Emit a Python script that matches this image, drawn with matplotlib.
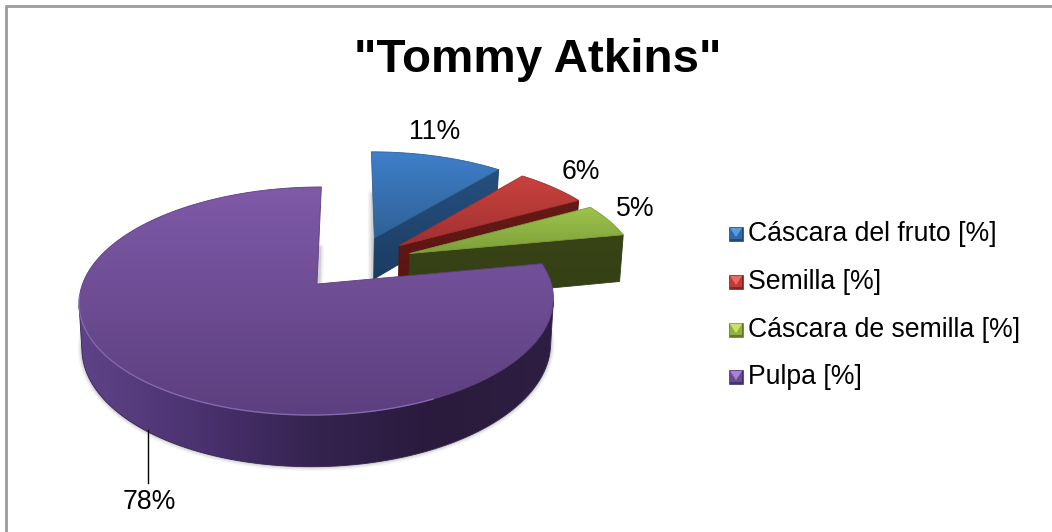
import numpy as np
import matplotlib
matplotlib.use("Agg")
import matplotlib.pyplot as plt
from matplotlib.colors import LinearSegmentedColormap
from matplotlib.patches import Polygon

plt.rcParams["font.family"] = ["Liberation Sans", "DejaVu Sans"]

# === Data ===
categories = ["Cáscara del fruto [%]", "Semilla [%]", "Cáscara de semilla [%]", "Pulpa [%]"]
values = [11, 6, 5, 78]
labels = ["11%", "6%", "5%", "78%"]

# top face gradient (far, near), side gradient and legend swatch tones per slice
top_colors = [("#3f7fcb", "#2f6195"), ("#c9423e", "#a03030"), ("#9dc44c", "#7d9e3a"), ("#7f5aa8", "#5c3f7f")]
rim_colors = [["#25507f", "#1c3c62"], ["#661a17", "#581412"], ["#384316", "#343f14"],
              ["#5f4388", "#4b3270", "#35234f", "#2a1a3c", "#2e1f42"]]
swatch_colors = [("#5a9ae0", "#2f6aa8", "#1f4a78"), ("#e86a62", "#c03a36", "#7f2522"),
                 ("#c8e468", "#90b040", "#607a28"), ("#a684d4", "#6a4a95", "#46306a")]
label_pos = [(435, 132), (581, 172), (635, 209), (149, 502)]

# Pie geometry in px: apex of the pulp slice, ellipse axes, perspective and skew
CX, CY = 317.0, 284.0
RX, RY = 234.5, 111.5
PERSP = 0.149
SKEW = 5.0
DEPTHS = [44.0, 44.0, 50.0, 44.0]
EXPLODE = 0.257
CONVERGE = 0.012  # lower plane of the pie is slightly narrower

W, H = 1052, 532


def project(u, v, drop=0.0):
    w = 1 + PERSP * v
    scale = 1 - CONVERGE if drop else 1.0
    return CX + scale * (RX * u + SKEW * v) / w, CY - (RY * v - drop) / w


def slice_geometry(start, end, centre):
    # angles run clockwise from twelve o'clock, in radians
    t = np.linspace(start, end, 160)
    return centre[0] + np.sin(t), centre[1] + np.cos(t)


def gradient_fill(ax, poly_xy, colors, vertical=True, zorder=2):
    poly_xy = np.asarray(poly_xy)
    x0, x1 = poly_xy[:, 0].min(), poly_xy[:, 0].max()
    y0, y1 = poly_xy[:, 1].min(), poly_xy[:, 1].max()
    cmap = LinearSegmentedColormap.from_list("g", colors)
    grad = np.linspace(0, 1, 256)
    grad = grad[:, None] if vertical else grad[None, :]
    im = ax.imshow(grad, cmap=cmap, extent=(x0, x1, y1, y0), aspect="auto",
                   interpolation="bilinear", zorder=zorder)
    patch = Polygon(poly_xy, closed=True, transform=ax.transData, fc="none", ec="none")
    ax.add_patch(patch)
    im.set_clip_path(patch)
    # thin edge of the mean colour hides the jagged clip
    ax.add_patch(Polygon(poly_xy, closed=True, fill=False, lw=0.6,
                         ec=colors[len(colors) // 2], zorder=zorder))


def soft_shadow(ax, xs, ys, zorder):
    for lw, alpha in zip([6, 4, 2], [0.05, 0.08, 0.12]):
        ax.plot(xs, ys, color="#404040", lw=lw, alpha=alpha, solid_capstyle="round", zorder=zorder)


fig = plt.figure(figsize=(W / 100, H / 100), dpi=100)
ax = fig.add_axes([0, 0, 1, 1])
ax.set_xlim(0, W)
ax.set_ylim(H, 0)
ax.axis("off")

# chart frame: only top and left edges are visible
ax.plot([6, 6], [H, 6], color="#9a9a9a", lw=2.0, solid_capstyle="butt", zorder=1)
ax.plot([5, W], [6, 6], color="#9a9a9a", lw=2.0, solid_capstyle="butt", zorder=1)

# === Slices ===
fractions = np.array(values) / sum(values)
edges = np.concatenate([[0], np.cumsum(fractions)]) * 2 * np.pi
mids = (edges[:-1] + edges[1:]) / 2
pulp_mid = mids[3]
# every slice moves out from a common centre; the pulp apex stays at the origin of the projection
base = (-EXPLODE * np.sin(pulp_mid), -EXPLODE * np.cos(pulp_mid))

zo = 3
for i in range(4):
    depth = DEPTHS[i]
    c = (base[0] + EXPLODE * np.sin(mids[i]), base[1] + EXPLODE * np.cos(mids[i]))
    u, v = slice_geometry(edges[i], edges[i + 1], c)
    us = np.concatenate([[c[0]], u])
    vs = np.concatenate([[c[1]], v])
    tx, ty = project(us, vs)
    rim_tx, rim_ty = project(u, v)
    rim_bx, rim_by = project(u, v, depth)
    ax_, ay_ = project(c[0], c[1])
    ax_d, ay_d = project(c[0], c[1], depth)

    # soft shadow along the visible lower outline and the left cut
    if i == 0:
        soft_shadow(ax, [ax_ - 2, ax_ - 2], [ay_ - 44, ay_d - 2], zo)
    if i == 3:
        soft_shadow(ax, [tx[0] + 2, tx[0] + 3], [ty[0] - 2, ty[0] - 36], zo)
        front = rim_by > CY - 10
        soft_shadow(ax, rim_bx[front], rim_by[front], zo)

    zo += 1
    # outer wall only where the arc runs right to left, the rest faces away
    seen = np.gradient(rim_tx) < 0
    if seen.any():
        rim_xy = np.column_stack([np.concatenate([rim_tx[seen], rim_bx[seen][::-1]]),
                                  np.concatenate([rim_ty[seen], rim_by[seen][::-1]])])
        gradient_fill(ax, rim_xy, rim_colors[i], vertical=False, zorder=zo)
    zo += 1
    if i < 3:
        # cut face on the clockwise side of the slice
        face = [(ax_, ay_), (rim_tx[-1], rim_ty[-1]), (rim_bx[-1], rim_by[-1]), (ax_d, ay_d)]
        gradient_fill(ax, face, rim_colors[i], vertical=True, zorder=zo)
    zo += 1
    gradient_fill(ax, np.column_stack([tx, ty]), top_colors[i], vertical=True, zorder=zo)
    zo += 1
    if i == 3:
        # pale bevel along the near edge of the top face
        near = (rim_ty > CY + 10) & (rim_tx < CX + 120)
        ax.plot(rim_tx[near], rim_ty[near], color="#8468b0", lw=1.0, zorder=zo)
        zo += 1

# === Text ===
ax.text(538, 60, '"Tommy Atkins"', fontsize=34.2, fontweight="bold", ha="center", va="center",
        color="black", zorder=20)
for lab, (lx, ly) in zip(labels, label_pos):
    ax.text(lx, ly, lab, fontsize=19.2, ha="center", va="center", color="black", zorder=20)

# leader line for the pulp label
ax.plot([148, 148], [430, 483], color="black", lw=1.0, zorder=zo)

# === Legend ===
legend_y = [234, 282, 330, 377]
for name, ly, (light, mid, dark) in zip(categories, legend_y, swatch_colors):
    x0, x1, y0, y1 = 729, 743, ly - 7, ly + 7
    xm = (x0 + x1) / 2
    ax.add_patch(Polygon([(x0, y0), (x1, y0), (x1, y1), (x0, y1)], fc=dark, ec=dark, lw=0.5, zorder=20))
    ax.add_patch(Polygon([(x0 + 1, y0), (x1 - 1, y0), (x1 - 1, y1 - 2), (x0 + 1, y1 - 2)], fc=mid, ec="none", zorder=21))
    ax.add_patch(Polygon([(x0 + 1, y0 + 1), (x1 - 1, y0 + 1), (xm, y1 - 4)], fc=light, ec="none", zorder=22))
    ax.text(748, ly, name, fontsize=19.2, ha="left", va="center", color="black", zorder=20)

fig.savefig("out.png", dpi=100)
